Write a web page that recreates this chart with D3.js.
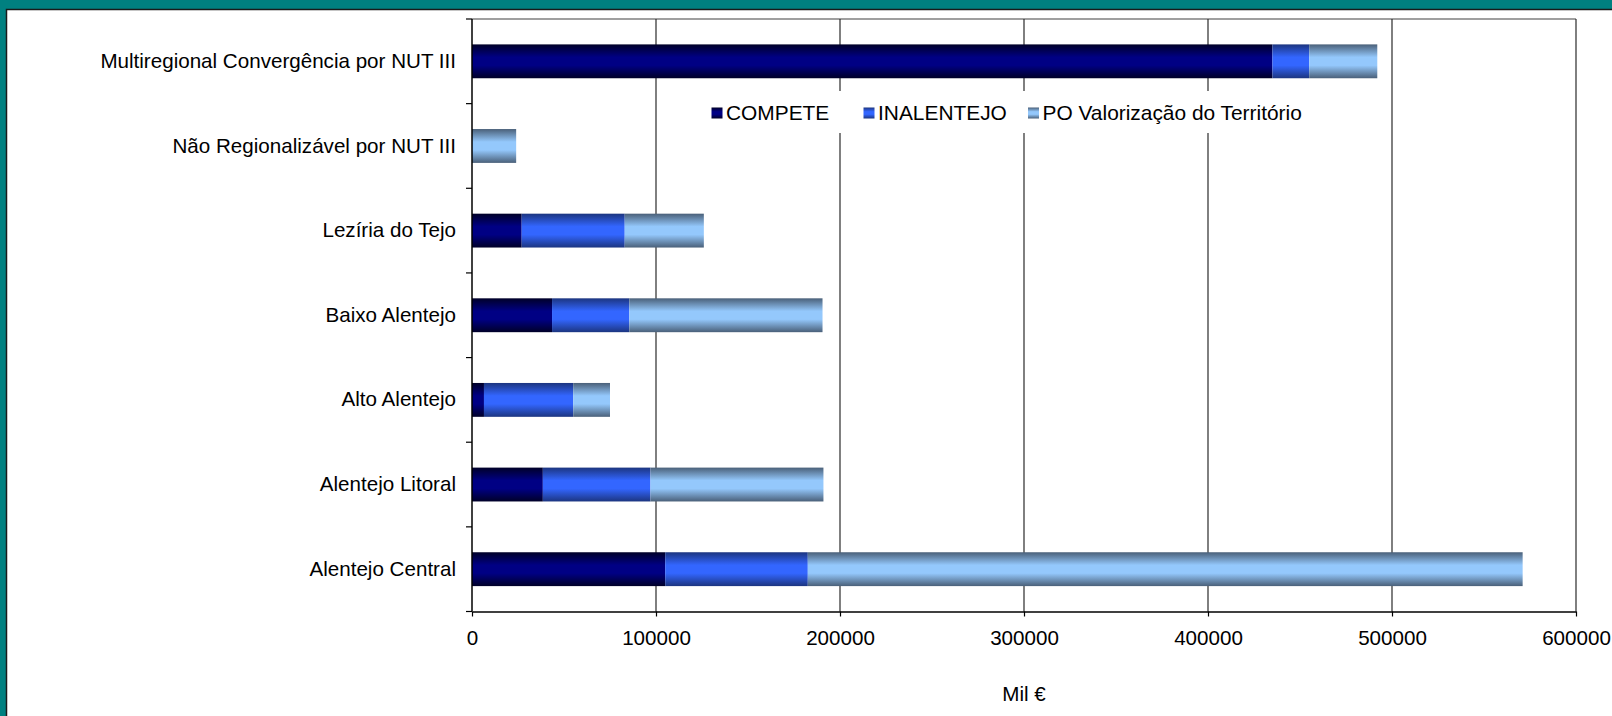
<!DOCTYPE html>
<html>
<head>
<meta charset="utf-8">
<script src="https://cdn.jsdelivr.net/npm/d3@7"></script>
<style>
  html, body { margin: 0; padding: 0; background: #008080; }
  svg { display: block; }
  text { font-family: "Liberation Sans", Arial, sans-serif; fill: #000; }
</style>
</head>
<body>
<svg id="chart" width="1612" height="716"></svg>
<script>
const categories = [
  "Multiregional Convergência por NUT III",
  "Não Regionalizável por NUT III",
  "Lezíria do Tejo",
  "Baixo Alentejo",
  "Alto Alentejo",
  "Alentejo Litoral",
  "Alentejo Central"
];
const seriesNames = ["COMPETE", "INALENTEJO", "PO Valorização do Território"];
const compete    = [435000,     0, 27000,  43500,  6500, 38500, 105000];
const inalentejo = [ 20000,     0, 56000,  42000, 48500, 58500,  77500];
const poVT       = [ 37000, 24000, 43000, 105000, 20000, 94000, 388500];
const xTicks = [0, 100000, 200000, 300000, 400000, 500000, 600000];
const xTitle = "Mil €";

const svg = d3.select("#chart");
const W = 1612, H = 716;
const plot = { left: 472, right: 1576, top: 19, bottom: 611.5 };
const FS = 20.6;

// panel
svg.append("rect").attr("x", 0).attr("y", 0).attr("width", W).attr("height", H).attr("fill", "#008080");
svg.append("rect").attr("x", 6.5).attr("y", 9.5).attr("width", W).attr("height", H)
  .attr("fill", "#fff").attr("stroke", "#1a1a1a").attr("stroke-width", 1.5);

// gradients
const defs = svg.append("defs");
const palettes = [
  { id: "g0", edge: "#000028", mid: "#000084" },
  { id: "g1", edge: "#1c3580", mid: "#3366ff" },
  { id: "g2", edge: "#4a6079", mid: "#94c8fc" }
];
palettes.forEach(p => {
  const g = defs.append("linearGradient").attr("id", p.id)
    .attr("x1", 0).attr("y1", 0).attr("x2", 0).attr("y2", 1);
  g.append("stop").attr("offset", "0%").attr("stop-color", p.edge);
  g.append("stop").attr("offset", "38%").attr("stop-color", p.mid);
  g.append("stop").attr("offset", "62%").attr("stop-color", p.mid);
  g.append("stop").attr("offset", "100%").attr("stop-color", p.edge);
});

const x = d3.scaleLinear().domain([0, 600000]).range([plot.left, plot.right]);
const y = d3.scaleBand().domain(categories).range([plot.top, plot.bottom])
  .paddingInner(0.6).paddingOuter(0.3);

// top border of plot
svg.append("line").attr("x1", plot.left).attr("x2", plot.right)
  .attr("y1", plot.top).attr("y2", plot.top).attr("stroke", "#7f7f7f").attr("stroke-width", 1.5);

// gridlines
svg.append("g").selectAll("line").data(xTicks.filter(d => d > 0)).join("line")
  .attr("x1", d => x(d)).attr("x2", d => x(d))
  .attr("y1", plot.top).attr("y2", plot.bottom)
  .attr("stroke", "#2b2b2b").attr("stroke-width", 1.2);

// bars
const table = categories.map((c, i) => ({ cat: c, COMPETE: compete[i], INALENTEJO: inalentejo[i], "PO Valorização do Território": poVT[i] }));
const stacked = d3.stack().keys(seriesNames)(table);
stacked.forEach((s, si) => {
  svg.append("g").selectAll("rect").data(s).join("rect")
    .attr("x", d => x(d[0]))
    .attr("width", d => Math.max(0, x(d[1]) - x(d[0])))
    .attr("y", d => y(d.data.cat))
    .attr("height", y.bandwidth())
    .attr("fill", `url(#g${si})`);
});

// legend
const legend = svg.append("g");
legend.append("rect").attr("x", 700).attr("y", 91).attr("width", 610).attr("height", 42).attr("fill", "#fff");
const legX = [711.5, 863.5, 1028];
seriesNames.forEach((n, i) => {
  legend.append("rect").attr("x", legX[i]).attr("y", 107.5).attr("width", 11).attr("height", 11)
    .attr("fill", `url(#g${i})`);
  legend.append("text").attr("x", legX[i] + 14.5).attr("y", 113).attr("dy", "0.35em")
    .attr("font-size", 20.9).text(n);
});

// y axis line + ticks at band boundaries
svg.append("line").attr("x1", plot.left).attr("x2", plot.left)
  .attr("y1", plot.top).attr("y2", plot.bottom).attr("stroke", "#000").attr("stroke-width", 1.5);
const bounds = d3.range(categories.length + 1).map(i => plot.top + i * y.step());
svg.append("g").selectAll("line").data(bounds).join("line")
  .attr("x1", plot.left - 6).attr("x2", plot.left)
  .attr("y1", d => d).attr("y2", d => d).attr("stroke", "#000").attr("stroke-width", 1.2);

// y labels via axis
const yAxis = svg.append("g").attr("transform", `translate(${plot.left - 16},0)`)
  .call(d3.axisLeft(y).tickSize(0).tickPadding(0));
yAxis.select(".domain").remove();
yAxis.selectAll("text").attr("font-size", FS).attr("font-family", "Liberation Sans, Arial, sans-serif").attr("fill", "#000");

// x axis
const xAxis = svg.append("g").attr("transform", `translate(0,${plot.bottom})`)
  .call(d3.axisBottom(x).tickValues(xTicks).tickFormat(d3.format("d")).tickSizeInner(5).tickSizeOuter(0).tickPadding(14));
xAxis.select(".domain").attr("stroke", "#000").attr("stroke-width", 1.5);
xAxis.selectAll(".tick line").attr("stroke", "#000").attr("stroke-width", 1.2);
xAxis.selectAll("text").attr("font-size", FS).attr("font-family", "Liberation Sans, Arial, sans-serif").attr("fill", "#000");

// x title
svg.append("text").attr("x", (plot.left + plot.right) / 2).attr("y", 694).attr("dy", "0.35em")
  .attr("text-anchor", "middle").attr("font-size", FS).text(xTitle);
</script>
</body>
</html>
